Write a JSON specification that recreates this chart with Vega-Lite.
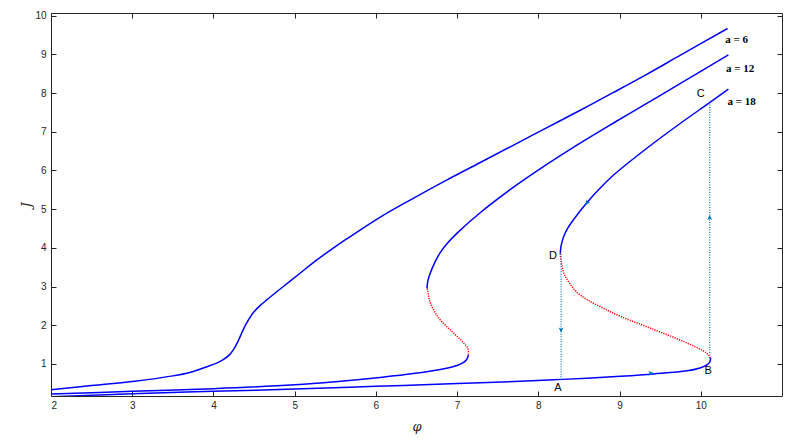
{
  "$schema": "https://vega.github.io/schema/vega-lite/v6.json",
  "width": 731,
  "height": 383,
  "autosize": {"type": "none"},
  "padding": {"left": 51, "top": 13, "right": 10, "bottom": 44},
  "background": "white",
  "config": {
    "view": {"stroke": "#262626", "strokeWidth": 1},
    "axis": {
      "domain": false,
      "ticks": false,
      "tickSize": 0,
      "grid": true,
      "gridColor": "#262626",
      "gridOpacity": 1,
      "gridWidth": 1,
      "labelFont": "Liberation Sans",
      "labelFontSize": 10,
      "labelColor": "#262626",
      "titleFont": "DejaVu Serif",
      "titleFontStyle": "italic",
      "titleFontWeight": "normal",
      "titleFontSize": 13,
      "titleColor": "#262626"
    }
  },
  "datasets": {
    "curves": [
      {"part": "6s", "br": "s", "k": 1, "phi": 2, "J": 0.33},
      {"part": "6s", "br": "s", "k": 2, "phi": 2.5, "J": 0.44},
      {"part": "6s", "br": "s", "k": 3, "phi": 3.03, "J": 0.55},
      {"part": "6s", "br": "s", "k": 4, "phi": 3.5, "J": 0.69},
      {"part": "6s", "br": "s", "k": 5, "phi": 3.71, "J": 0.78},
      {"part": "6s", "br": "s", "k": 6, "phi": 3.84, "J": 0.87},
      {"part": "6s", "br": "s", "k": 7, "phi": 4.04, "J": 1.02},
      {"part": "6s", "br": "s", "k": 8, "phi": 4.12, "J": 1.11},
      {"part": "6s", "br": "s", "k": 9, "phi": 4.2, "J": 1.24},
      {"part": "6s", "br": "s", "k": 10, "phi": 4.25, "J": 1.38},
      {"part": "6s", "br": "s", "k": 11, "phi": 4.29, "J": 1.53},
      {"part": "6s", "br": "s", "k": 12, "phi": 4.33, "J": 1.71},
      {"part": "6s", "br": "s", "k": 13, "phi": 4.37, "J": 1.9},
      {"part": "6s", "br": "s", "k": 14, "phi": 4.41, "J": 2.06},
      {"part": "6s", "br": "s", "k": 15, "phi": 4.49, "J": 2.32},
      {"part": "6s", "br": "s", "k": 16, "phi": 4.57, "J": 2.5},
      {"part": "6s", "br": "s", "k": 17, "phi": 4.66, "J": 2.66},
      {"part": "6s", "br": "s", "k": 18, "phi": 4.86, "J": 3.0},
      {"part": "6s", "br": "s", "k": 19, "phi": 5.07, "J": 3.35},
      {"part": "6s", "br": "s", "k": 20, "phi": 5.23, "J": 3.62},
      {"part": "6s", "br": "s", "k": 21, "phi": 5.44, "J": 3.94},
      {"part": "6s", "br": "s", "k": 22, "phi": 5.64, "J": 4.23},
      {"part": "6s", "br": "s", "k": 23, "phi": 6.05, "J": 4.79},
      {"part": "6s", "br": "s", "k": 24, "phi": 6.46, "J": 5.28},
      {"part": "6s", "br": "s", "k": 25, "phi": 6.87, "J": 5.75},
      {"part": "6s", "br": "s", "k": 26, "phi": 7.28, "J": 6.2},
      {"part": "6s", "br": "s", "k": 27, "phi": 7.69, "J": 6.65},
      {"part": "6s", "br": "s", "k": 28, "phi": 8.1, "J": 7.1},
      {"part": "6s", "br": "s", "k": 29, "phi": 8.51, "J": 7.55},
      {"part": "6s", "br": "s", "k": 30, "phi": 8.92, "J": 8.01},
      {"part": "6s", "br": "s", "k": 31, "phi": 9.34, "J": 8.49},
      {"part": "6s", "br": "s", "k": 32, "phi": 9.75, "J": 8.98},
      {"part": "6s", "br": "s", "k": 33, "phi": 10.33, "J": 9.67},

      {"part": "12l", "br": "s", "k": 1, "phi": 2, "J": 0.22},
      {"part": "12l", "br": "s", "k": 2, "phi": 3, "J": 0.29},
      {"part": "12l", "br": "s", "k": 3, "phi": 4, "J": 0.36},
      {"part": "12l", "br": "s", "k": 4, "phi": 5, "J": 0.46},
      {"part": "12l", "br": "s", "k": 5, "phi": 5.5, "J": 0.54},
      {"part": "12l", "br": "s", "k": 6, "phi": 6.05, "J": 0.65},
      {"part": "12l", "br": "s", "k": 7, "phi": 6.46, "J": 0.75},
      {"part": "12l", "br": "s", "k": 8, "phi": 6.87, "J": 0.89},
      {"part": "12l", "br": "s", "k": 9, "phi": 7.0, "J": 0.96},
      {"part": "12l", "br": "s", "k": 10, "phi": 7.08, "J": 1.04},
      {"part": "12l", "br": "s", "k": 11, "phi": 7.12, "J": 1.12},
      {"part": "12l", "br": "s", "k": 12, "phi": 7.14, "J": 1.24},

      {"part": "12u", "br": "u", "k": 1, "phi": 7.14, "J": 1.24},
      {"part": "12u", "br": "u", "k": 2, "phi": 7.13, "J": 1.41},
      {"part": "12u", "br": "u", "k": 3, "phi": 7.09, "J": 1.52},
      {"part": "12u", "br": "u", "k": 4, "phi": 7.04, "J": 1.63},
      {"part": "12u", "br": "u", "k": 5, "phi": 6.96, "J": 1.79},
      {"part": "12u", "br": "u", "k": 6, "phi": 6.87, "J": 1.97},
      {"part": "12u", "br": "u", "k": 7, "phi": 6.78, "J": 2.17},
      {"part": "12u", "br": "u", "k": 8, "phi": 6.71, "J": 2.4},
      {"part": "12u", "br": "u", "k": 9, "phi": 6.66, "J": 2.64},
      {"part": "12u", "br": "u", "k": 10, "phi": 6.64, "J": 2.87},
      {"part": "12u", "br": "u", "k": 11, "phi": 6.63, "J": 2.96},

      {"part": "12s", "br": "s", "k": 1, "phi": 6.63, "J": 2.96},
      {"part": "12s", "br": "s", "k": 2, "phi": 6.64, "J": 3.15},
      {"part": "12s", "br": "s", "k": 3, "phi": 6.67, "J": 3.35},
      {"part": "12s", "br": "s", "k": 4, "phi": 6.72, "J": 3.6},
      {"part": "12s", "br": "s", "k": 5, "phi": 6.79, "J": 3.87},
      {"part": "12s", "br": "s", "k": 6, "phi": 6.88, "J": 4.12},
      {"part": "12s", "br": "s", "k": 7, "phi": 7.0, "J": 4.38},
      {"part": "12s", "br": "s", "k": 8, "phi": 7.28, "J": 4.9},
      {"part": "12s", "br": "s", "k": 9, "phi": 7.69, "J": 5.56},
      {"part": "12s", "br": "s", "k": 10, "phi": 8.1, "J": 6.15},
      {"part": "12s", "br": "s", "k": 11, "phi": 8.51, "J": 6.7},
      {"part": "12s", "br": "s", "k": 12, "phi": 8.92, "J": 7.22},
      {"part": "12s", "br": "s", "k": 13, "phi": 9.34, "J": 7.74},
      {"part": "12s", "br": "s", "k": 14, "phi": 9.75, "J": 8.25},
      {"part": "12s", "br": "s", "k": 15, "phi": 10.34, "J": 8.99},

      {"part": "18l", "br": "s", "k": 1, "phi": 2, "J": 0.15},
      {"part": "18l", "br": "s", "k": 2, "phi": 3, "J": 0.23},
      {"part": "18l", "br": "s", "k": 3, "phi": 4, "J": 0.29},
      {"part": "18l", "br": "s", "k": 4, "phi": 5, "J": 0.35},
      {"part": "18l", "br": "s", "k": 5, "phi": 6, "J": 0.42},
      {"part": "18l", "br": "s", "k": 6, "phi": 7, "J": 0.49},
      {"part": "18l", "br": "s", "k": 7, "phi": 7.78, "J": 0.55},
      {"part": "18l", "br": "s", "k": 8, "phi": 8.19, "J": 0.59},
      {"part": "18l", "br": "s", "k": 9, "phi": 8.6, "J": 0.63},
      {"part": "18l", "br": "s", "k": 10, "phi": 9.01, "J": 0.68},
      {"part": "18l", "br": "s", "k": 11, "phi": 9.42, "J": 0.74},
      {"part": "18l", "br": "s", "k": 12, "phi": 9.83, "J": 0.82},
      {"part": "18l", "br": "s", "k": 13, "phi": 10.0, "J": 0.9},
      {"part": "18l", "br": "s", "k": 14, "phi": 10.08, "J": 0.98},
      {"part": "18l", "br": "s", "k": 15, "phi": 10.115, "J": 1.07},
      {"part": "18l", "br": "s", "k": 16, "phi": 10.12, "J": 1.15},

      {"part": "18u", "br": "u", "k": 1, "phi": 10.12, "J": 1.15},
      {"part": "18u", "br": "u", "k": 2, "phi": 10.07, "J": 1.28},
      {"part": "18u", "br": "u", "k": 3, "phi": 9.83, "J": 1.54},
      {"part": "18u", "br": "u", "k": 4, "phi": 9.42, "J": 1.89},
      {"part": "18u", "br": "u", "k": 5, "phi": 9.01, "J": 2.23},
      {"part": "18u", "br": "u", "k": 6, "phi": 8.8, "J": 2.44},
      {"part": "18u", "br": "u", "k": 7, "phi": 8.6, "J": 2.66},
      {"part": "18u", "br": "u", "k": 8, "phi": 8.47, "J": 2.86},
      {"part": "18u", "br": "u", "k": 9, "phi": 8.39, "J": 3.07},
      {"part": "18u", "br": "u", "k": 10, "phi": 8.33, "J": 3.27},
      {"part": "18u", "br": "u", "k": 11, "phi": 8.3, "J": 3.45},
      {"part": "18u", "br": "u", "k": 12, "phi": 8.28, "J": 3.65},
      {"part": "18u", "br": "u", "k": 13, "phi": 8.27, "J": 3.85},

      {"part": "18s", "br": "s", "k": 1, "phi": 8.27, "J": 3.85},
      {"part": "18s", "br": "s", "k": 2, "phi": 8.28, "J": 4.05},
      {"part": "18s", "br": "s", "k": 3, "phi": 8.31, "J": 4.28},
      {"part": "18s", "br": "s", "k": 4, "phi": 8.36, "J": 4.5},
      {"part": "18s", "br": "s", "k": 5, "phi": 8.43, "J": 4.72},
      {"part": "18s", "br": "s", "k": 6, "phi": 8.6, "J": 5.17},
      {"part": "18s", "br": "s", "k": 7, "phi": 8.75, "J": 5.52},
      {"part": "18s", "br": "s", "k": 8, "phi": 8.92, "J": 5.87},
      {"part": "18s", "br": "s", "k": 9, "phi": 9.34, "J": 6.58},
      {"part": "18s", "br": "s", "k": 10, "phi": 9.75, "J": 7.22},
      {"part": "18s", "br": "s", "k": 11, "phi": 10.1, "J": 7.74},
      {"part": "18s", "br": "s", "k": 12, "phi": 10.34, "J": 8.1}
    ],
    "jumps": [
      {"id": "DA", "phi": 8.28, "J1": 3.85, "J2": 0.59},
      {"id": "BC", "phi": 10.11, "J1": 1.15, "J2": 7.74}
    ],
    "arrows": [
      {"dir": "down", "phi": 8.28, "J": 1.89},
      {"dir": "up", "phi": 10.11, "J": 4.77},
      {"dir": "right", "phi": 9.38, "J": 0.76},
      {"dir": "downleft", "phi": 8.6, "J": 5.17}
    ],
    "points": [
      {"name": "A", "phi": 8.24, "J": 0.38},
      {"name": "B", "phi": 10.09, "J": 0.81},
      {"name": "C", "phi": 10.0, "J": 7.98},
      {"name": "D", "phi": 8.18, "J": 3.8}
    ],
    "alabels": [
      {"text": "a = 6", "phi": 10.3, "J": 9.37},
      {"text": "a = 12", "phi": 10.31, "J": 8.62},
      {"text": "a = 18", "phi": 10.33, "J": 7.76}
    ]
  },
  "encoding": {
    "x": {"field": "phi", "type": "quantitative",
          "scale": {"domain": [2, 11], "nice": false, "zero": false},
          "axis": {"orient": "bottom", "values": [2, 3, 4, 5, 6, 7, 8, 9, 10], "format": "d", "title": "φ", "labelPadding": 4, "titlePadding": 10, "gridDash": [5, 373, 5, 50]}},
    "y": {"field": "J", "type": "quantitative",
          "scale": {"domain": [0.17, 10.07], "nice": false, "zero": false},
          "axis": {"orient": "left", "values": [1, 2, 3, 4, 5, 6, 7, 8, 9, 10], "format": "d", "title": "J", "labelPadding": 5, "titlePadding": 1, "gridDash": [5, 721, 5, 50]}}
  },
  "layer": [
    {
      "data": {"name": "curves"},
      "transform": [{"filter": "datum.br === 's'"}],
      "mark": {"type": "line", "color": "#0000FF", "strokeWidth": 1.5, "clip": true, "interpolate": "catmull-rom"},
      "encoding": {
        "detail": {"field": "part"},
        "order": {"field": "k"}
      }
    },
    {
      "data": {"name": "curves"},
      "transform": [{"filter": "datum.br === 'u'"}],
      "mark": {"type": "line", "color": "#FF0000", "strokeWidth": 1.5, "strokeDash": [1.2, 1.2], "clip": true, "interpolate": "catmull-rom"},
      "encoding": {
        "detail": {"field": "part"},
        "order": {"field": "k"}
      }
    },
    {
      "data": {"name": "jumps"},
      "mark": {"type": "rule", "color": "#0072BD", "strokeWidth": 1.2, "strokeDash": [1, 1.5]},
      "encoding": {
        "y": {"field": "J1", "type": "quantitative"},
        "y2": {"field": "J2"}
      }
    },
    {
      "data": {"name": "arrows"},
      "transform": [{"filter": "datum.dir === 'down'"}],
      "mark": {"type": "point", "shape": "M0,-1L0.7,0.6L0,0.2L-0.7,0.6Z", "filled": true, "color": "#0072BD", "size": 45, "opacity": 1, "angle": 180}
    },
    {
      "data": {"name": "arrows"},
      "transform": [{"filter": "datum.dir === 'up'"}],
      "mark": {"type": "point", "shape": "M0,-1L0.7,0.6L0,0.2L-0.7,0.6Z", "filled": true, "color": "#0072BD", "size": 45, "opacity": 1, "angle": 0}
    },
    {
      "data": {"name": "arrows"},
      "transform": [{"filter": "datum.dir === 'right'"}],
      "mark": {"type": "point", "shape": "M0,-1L0.7,0.6L0,0.2L-0.7,0.6Z", "filled": true, "color": "#0072BD", "size": 45, "opacity": 1, "angle": 85}
    },
    {
      "data": {"name": "arrows"},
      "transform": [{"filter": "datum.dir === 'downleft'"}],
      "mark": {"type": "point", "shape": "M0,-1L0.7,0.6L0,0.2L-0.7,0.6Z", "filled": true, "color": "#0072BD", "size": 45, "opacity": 1, "angle": 215}
    },
    {
      "data": {"name": "points"},
      "mark": {"type": "text", "font": "Liberation Sans", "fontSize": 11, "color": "#000000", "align": "center", "baseline": "middle"},
      "encoding": {"text": {"field": "name"}}
    },
    {
      "data": {"name": "alabels"},
      "mark": {"type": "text", "font": "Liberation Serif", "fontWeight": "bold", "fontSize": 11, "color": "#000000", "align": "left", "baseline": "middle"},
      "encoding": {"text": {"field": "text"}}
    }
  ]
}
